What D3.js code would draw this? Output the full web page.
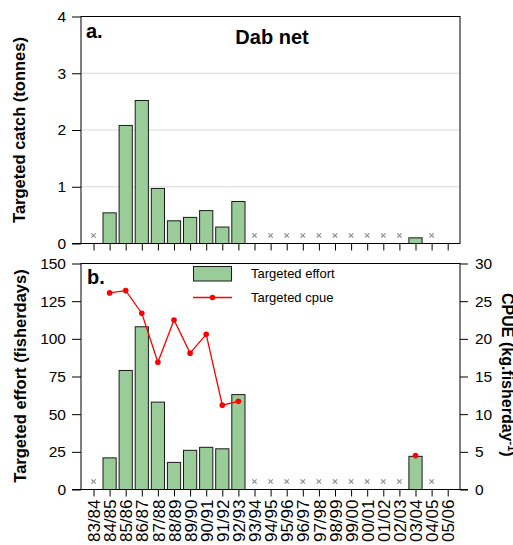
<!DOCTYPE html>
<html>
<head>
<meta charset="utf-8">
<script src="https://cdn.jsdelivr.net/npm/d3@7"></script>
<style>
  body { margin: 0; background: #fff; }
  svg { display: block; }
  text { font-family: "Liberation Sans", Arial, Helvetica, sans-serif; fill: #000; }
</style>
</head>
<body>
<svg id="chart" width="513" height="545"></svg>
<script>
// Fishing seasons
const seasons = ["83/84","84/85","85/86","86/87","87/88","88/89","89/90","90/91","91/92","92/93",
  "93/94","94/95","95/96","96/97","97/98","98/99","99/00","00/01","01/02","02/03","03/04","04/05","05/06"];

// Targeted catch (tonnes); null = no bar
const catchTonnes = [null,0.54,2.08,2.52,0.97,0.40,0.46,0.58,0.29,0.74,
  null,null,null,null,null,null,null,null,null,null,0.10,null,null];

// Targeted effort (fisherdays)
const effortDays = [null,21,79,108,58,18,26,28,27,63,
  null,null,null,null,null,null,null,null,null,null,22,null,null];

// Targeted CPUE (kg per fisherday)
const cpue = [null,26.1,26.4,23.4,16.9,22.5,18.1,20.6,11.2,11.7,
  null,null,null,null,null,null,null,null,null,null,4.5,null,null];

// Seasons with no targeted fishing recorded
const noDataSeasons = ["83/84","93/94","94/95","95/96","96/97","97/98","98/99","99/00",
  "00/01","01/02","02/03","04/05"];

const catchTicks = [0,1,2,3,4];
const effortTicks = [0,25,50,75,100,125,150];
const cpueTicks = [0,5,10,15,20,25,30];

const svg = d3.select("#chart");
const L = 81, R = 460;
const topA = 16.5, botA = 243.5;
const topB = 263.5, botB = 489.5;
const barFill = "#99cc99";
const font = "\"Liberation Sans\", Arial, sans-serif";

const x = d3.scalePoint().domain(seasons).range([93.5, 447.7]);
const barW = x.step() * 0.82;

const yCatch = d3.scaleLinear().domain([0, 4]).range([botA, topA]);
const yEffort = d3.scaleLinear().domain([0, 150]).range([botB, topB]);
const yCpue = d3.scaleLinear().domain([0, 30]).range([botB, topB]);

function styleAxis(g, size) {
  g.select(".domain").remove();
  g.selectAll(".tick line").attr("stroke", "#000").attr("stroke-width", 1);
  g.selectAll(".tick text").attr("font-size", size).attr("font-family", font).attr("fill", "#000");
}

// ---------- Panel a: targeted catch ----------
const pa = svg.append("g");

pa.append("g").selectAll("line").data(catchTicks.filter(t => t > 0 && t < 4)).join("line")
  .attr("x1", L).attr("x2", R)
  .attr("y1", d => yCatch(d)).attr("y2", d => yCatch(d))
  .attr("stroke", "#d9d9d9").attr("stroke-width", 1);

const catchData = seasons.map((s, i) => ({ s, v: catchTonnes[i] })).filter(d => d.v != null);
pa.append("g").selectAll("rect").data(catchData).join("rect")
  .attr("x", d => x(d.s) - barW / 2)
  .attr("width", barW)
  .attr("y", d => yCatch(d.v))
  .attr("height", d => yCatch(0) - yCatch(d.v))
  .attr("fill", barFill).attr("stroke", "#1a1a1a").attr("stroke-width", 1);

pa.append("g").selectAll("path").data(noDataSeasons).join("path")
  .attr("transform", d => `translate(${x(d)},${yCatch(0) - 8})`)
  .attr("d", d3.symbol(d3.symbolX, 14)())
  .attr("stroke", "#8c8c8c").attr("stroke-width", 1.2).attr("fill", "none");

pa.append("rect").attr("x", L).attr("y", topA).attr("width", R - L).attr("height", botA - topA)
  .attr("fill", "none").attr("stroke", "#000").attr("stroke-width", 1);

pa.append("g").attr("transform", `translate(${L},0)`)
  .call(d3.axisLeft(yCatch).tickValues(catchTicks).tickFormat(d3.format("d")).tickSize(9).tickPadding(6))
  .call(g => styleAxis(g, 15.5));

pa.append("g").attr("transform", `translate(0,${botA})`)
  .call(d3.axisBottom(x).tickSize(7).tickFormat(""))
  .call(g => styleAxis(g, 15));

pa.append("line").attr("x1", 72).attr("x2", L).attr("y1", botA).attr("y2", botA).attr("stroke", "#000");

pa.append("text").attr("x", 86).attr("y", 38).attr("font-size", 20).attr("font-weight", "bold").text("a.");
pa.append("text").attr("x", 272).attr("y", 44).attr("text-anchor", "middle")
  .attr("font-size", 20).attr("font-weight", "bold").text("Dab net");

pa.append("text").attr("transform", `translate(25,130) rotate(-90)`)
  .attr("text-anchor", "middle").attr("font-size", 16.5).attr("font-weight", "bold")
  .text("Targeted catch (tonnes)");

// ---------- Panel b: targeted effort and cpue ----------
const pb = svg.append("g");

const effortData = seasons.map((s, i) => ({ s, v: effortDays[i] })).filter(d => d.v != null);
pb.append("g").selectAll("rect").data(effortData).join("rect")
  .attr("x", d => x(d.s) - barW / 2)
  .attr("width", barW)
  .attr("y", d => yEffort(d.v))
  .attr("height", d => yEffort(0) - yEffort(d.v))
  .attr("fill", barFill).attr("stroke", "#1a1a1a").attr("stroke-width", 1);

pb.append("g").selectAll("path").data(noDataSeasons).join("path")
  .attr("transform", d => `translate(${x(d)},${yEffort(0) - 8})`)
  .attr("d", d3.symbol(d3.symbolX, 14)())
  .attr("stroke", "#8c8c8c").attr("stroke-width", 1.2).attr("fill", "none");

const cpueData = seasons.map((s, i) => ({ s, v: cpue[i] }));
pb.append("path").datum(cpueData)
  .attr("d", d3.line().defined(d => d.v != null).x(d => x(d.s)).y(d => yCpue(d.v)))
  .attr("fill", "none").attr("stroke", "#ff0000").attr("stroke-width", 1.3);
pb.append("g").selectAll("circle").data(cpueData.filter(d => d.v != null)).join("circle")
  .attr("cx", d => x(d.s)).attr("cy", d => yCpue(d.v)).attr("r", 2.8)
  .attr("fill", "#ff0000");

pb.append("rect").attr("x", L).attr("y", topB).attr("width", R - L).attr("height", botB - topB)
  .attr("fill", "none").attr("stroke", "#000").attr("stroke-width", 1);

pb.append("g").attr("transform", `translate(${L},0)`)
  .call(d3.axisLeft(yEffort).tickValues(effortTicks).tickSize(9).tickPadding(6))
  .call(g => styleAxis(g, 15.5));

pb.append("g").attr("transform", `translate(${R},0)`)
  .call(d3.axisRight(yCpue).tickValues(cpueTicks).tickSize(8).tickPadding(7))
  .call(g => styleAxis(g, 15.5));

pb.append("g").attr("transform", `translate(0,${botB})`)
  .call(d3.axisBottom(x).tickSize(7))
  .call(g => styleAxis(g, 17))
  .call(g => g.selectAll(".tick text")
    .attr("transform", "rotate(-90)")
    .attr("text-anchor", "end")
    .attr("x", -10).attr("y", 0).attr("dy", "0.36em"));

pb.append("line").attr("x1", 72).attr("x2", 468).attr("y1", botB).attr("y2", botB).attr("stroke", "#000");

pb.append("text").attr("x", 87).attr("y", 284).attr("font-size", 20).attr("font-weight", "bold").text("b.");

pb.append("text").attr("transform", `translate(26,376) rotate(-90)`)
  .attr("text-anchor", "middle").attr("font-size", 16.5).attr("font-weight", "bold")
  .text("Targeted effort (fisherdays)");

// Right-hand axis title sits against the page edge
const cpueLabel = pb.append("text").attr("transform", `translate(502,293) rotate(90)`)
  .attr("text-anchor", "start").attr("font-size", 16).attr("font-weight", "bold");
cpueLabel.append("tspan").text("CPUE (kg.fisherday");
cpueLabel.append("tspan").attr("dy", -6).attr("font-size", 11).text("-1");
cpueLabel.append("tspan").attr("dy", 6).text(")");

// Legend
const lg = pb.append("g");
lg.append("rect").attr("x", 193.5).attr("y", 266.5).attr("width", 38).attr("height", 14.5)
  .attr("fill", barFill).attr("stroke", "#1a1a1a");
lg.append("text").attr("x", 251).attr("y", 278).attr("font-size", 13).text("Targeted effort");
lg.append("line").attr("x1", 193).attr("x2", 232).attr("y1", 297.5).attr("y2", 297.5)
  .attr("stroke", "#ff0000").attr("stroke-width", 1.3);
lg.append("circle").attr("cx", 212.5).attr("cy", 297.5).attr("r", 2.8).attr("fill", "#ff0000");
lg.append("text").attr("x", 251).attr("y", 302).attr("font-size", 13).text("Targeted cpue");
</script>
</body>
</html>
